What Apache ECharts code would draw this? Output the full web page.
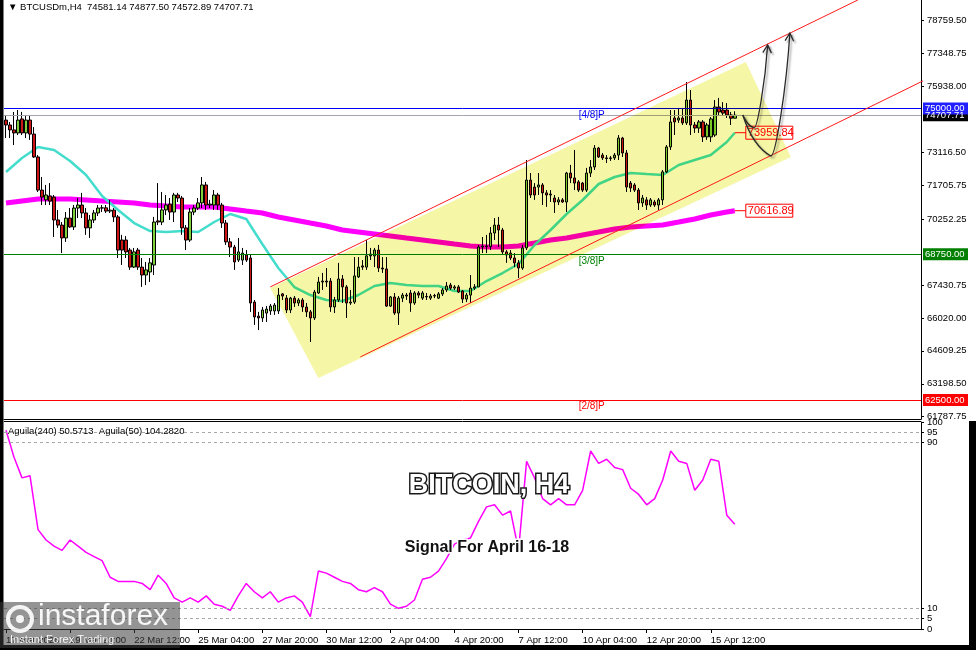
<!DOCTYPE html>
<html><head><meta charset="utf-8">
<script src="https://cdn.jsdelivr.net/npm/echarts@6/dist/echarts.min.js"></script>
<style>html,body{margin:0;padding:0;background:#fff}#c{width:976px;height:650px}</style>
</head><body><div id="c"></div>
<script>
// ---------------- DATA ----------------
const symbolTitle = '\u25BC BTCUSDm,H4  74581.14 74877.50 74572.89 74707.71';
const indicatorTitle = 'Aguila(240) 50.5713  Aguila(50) 104.2820';
const startTime = Date.UTC(2026, 2, 17, 4, 0);
const barCount = 229;            // includes empty right shift
const months = ['Jan','Feb','Mar','Apr','May','Jun','Jul','Aug','Sep','Oct','Nov','Dec'];

// [open, close, low, high]
const candles = [
[74500,74290,73730,74720],[74290,74080,73730,74420],[74080,73950,73430,74850],[73950,74500,73860,74930],
[74550,73950,73860,74850],[73950,74500,73730,74720],[74500,73900,73650,74680],[73900,72920,72880,74200],
[72920,71500,71420,73000],[71500,71200,70860,72060],[71080,71290,70860,71720],[71250,71030,70860,71800],
[71200,70220,69490,71290],[70220,70000,69880,70650],[70000,69450,68800,70130],[69450,70300,69280,70560],
[70300,69920,69880,70730],[69920,70730,69790,70860],[70730,70860,70300,71160],[70860,70520,70300,71380],
[70520,69880,69580,70730],[69880,70220,69450,70430],[70220,70520,70090,70650],[70520,70730,70390,70860],
[70730,70740,70560,70860],[70740,70600,70520,70860],[70600,70640,70520,71080],[70640,70350,70130,70730],
[70350,68930,68590,70430],[69360,68930,68290,69580],[69360,68850,68590,69530],[68930,68200,68080,69020],
[68200,68850,68160,69020],[68930,68200,68080,69020],[68200,67860,67350,68590],[67860,68080,67430,68420],
[67990,68380,67560,68590],[68290,70130,67860,70350],[70180,70130,70000,71800],[70130,70650,70000,71420],
[70650,70860,70430,71290],[70900,70560,70220,71160],[70560,71290,70130,71380],[71290,71160,70990,71380],
[71160,69880,69580,71250],[69880,69360,68930,70000],[69360,70560,69280,70730],[70560,70730,70430,70860],
[70730,70950,70650,71160],[70950,71720,70730,72060],[71720,70860,70650,71850],[70860,70900,70730,71080],
[70860,71290,70650,71500],[71290,70860,70650,71380],[70860,70090,69880,70950],[70090,69280,69150,70220],
[69280,69060,68630,69450],[69060,68420,68080,69150],[68500,68850,68420,69450],[68500,68800,68290,69020],
[68720,68500,68420,68930],[68590,66660,66280,68720],[66700,66060,65720,66790],[66100,66020,65500,66280],
[66020,66360,65850,66490],[66230,66400,65850,66530],[66320,66530,66150,66620],[66320,66570,66150,66660],
[66320,67000,66190,67300],[67050,66960,66790,67090],[66870,66360,66230,67000],[66360,66870,66230,66920],
[66870,66660,66490,66960],[66660,66790,66530,66870],[66790,66490,66280,66870],[66490,66280,66060,66660],
[66280,66020,64990,66360],[66020,67130,65930,67220],[67090,67560,67050,67780],[67560,67600,67220,67950],
[67600,67560,67350,68160],[67600,66490,66280,67730],[66490,66790,66230,66920],[66790,67690,66700,68380],
[67690,67350,66660,67860],[67350,66660,66020,67430],[66660,66700,66580,67220],[66700,67820,66620,68630],
[67780,68200,67730,68630],[68250,68200,68080,68500],[68200,68680,68080,69360],[68760,68680,68500,69020],
[68680,68930,68200,69020],[68930,68160,67990,69150],[68160,68120,67950,68630],[68120,66530,66490,68630],
[66530,66920,66490,66960],[66920,66230,66150,67090],[66230,66870,65720,66960],[66870,67000,66700,67090],
[67000,66960,66790,67090],[67090,66660,66280,67220],[66660,67090,66580,67170],[67090,67000,66870,67170],
[66870,67090,66790,67170],[66940,66920,66790,67090],[66870,66960,66790,67050],[66960,66980,66870,67050],
[66870,67050,66830,67130],[67050,67220,66960,67300],[67220,67390,67130,67560],[67430,67300,67220,67520],
[67300,67350,67220,67430],[67350,67130,67090,67430],[67170,66830,66660,67220],[66830,67000,66700,67090],
[67000,67300,66660,67860],[67300,67350,67220,67470],[67350,69060,67350,69150],[69060,69100,68800,69490],
[69100,69080,68800,69580],[69080,69660,68930,69920],[69660,70000,69360,70300],[70000,69790,69060,70350],
[69790,68850,68720,69880],[68850,68720,68380,68930],[68800,68590,68500,68930],[68590,68380,68200,68800],
[68380,68160,67730,68500],[68160,69020,68080,69150],[69020,71930,68930,72790],[71930,71290,71160,72230],
[71630,71290,71080,71800],[71630,71720,71290,72230],[71720,71380,70860,71800],[71380,71290,70780,71500],
[71290,71330,70990,71500],[71160,70990,70520,71290],[70990,71080,70860,71200],[71080,70990,70950,71160],
[70990,72230,70560,72280],[72230,72020,71800,72580],[72020,71800,71500,73220],[71850,71500,71420,71930],
[71800,71500,71420,71850],[71500,72230,71420,72450],[72230,72490,72060,72790],[72490,73300,72360,73430],
[73300,72920,72880,73350],[73000,72880,72790,73090],[72880,72850,72660,73000],[72850,72880,72750,72960],
[72880,73000,72790,73090],[73000,73730,72790,73860],[73730,73090,72920,73780],[73090,71630,71420,73220],
[71800,71590,71420,71890],[71720,71500,71420,71800],[71500,70950,70650,71590],[70950,71160,70780,71290],
[71080,70860,70650,71200],[70860,71080,70780,71160],[70990,70860,70780,71080],[70860,71080,70650,71160],
[71080,72280,70860,72360],[72280,73350,72230,73430],[73350,74420,73220,74930],[74590,74420,73860,74930],
[74500,74590,74380,75020],[74590,74380,74290,75020],[74380,75360,74290,76130],[75360,74290,73860,75790],
[74290,74160,73950,74420],[74160,74420,73950,74500],[74420,73780,73560,74500],[73780,74290,73650,74380],
[73780,74550,73560,74630],[73860,75060,73780,75360],[75060,74850,74720,75450],[74930,74800,74720,75270],
[74930,74720,74590,75230],[74720,74580,74290,74850],[74581.14,74707.71,74572.89,74877.50]
];

// moving averages, sampled every 4 bars (last one at the last bar)
const maFast = [72275,72875,73347,73218,72747,72147,71246,70646,70089,69746,69703,69746,69703,70132,70475,70261,
69189,68160,67346,67003,66789,66746,67003,67389,67518,67432,67389,67389,67175,67175,67603,67946,68332,69146,
69789,70475,71075,71761,72061,72232,72189,72147,72575,72789,73004,73561,73959.84];
const maSlow = [70946,71032,71118,71118,71118,71075,71032,70989,70946,70861,70818,70775,70775,70775,70689,70603,
70518,70347,70218,70089,69961,69789,69703,69617,69532,69446,69361,69275,69189,69104,69061,69061,69104,69232,
69361,69446,69575,69703,69832,69918,69961,70004,70132,70261,70432,70561,70616.89];
// Aguila(240) indicator, sampled every 2 bars
const aguila = [96,83,73,74,48,43,40,38,43,40, 37,35,33,25,23,23,23,22,19,26, 22,15,13,15,13,16,12,11,9,16,
22,18,15,18,13,15,16,13,6,28, 27,25,23,22,19,18,20,18,12,10, 11,14,24,25,28,34,41,43,44,52,
59,60,55,57,38,81,73,63,60,63, 60,60,67,86,80,82,78,77,68,65, 60,63,72,86,81,80,67,72,82,81, 55,50.57];

const priceTicks = [78759.50,77348.75,75938.00,73116.50,71705.75,70252.25,67430.75,66020.00,64609.25,63198.50,61787.75];
const aguilaTicks = [0,5,10,90,95,100];
const aguilaLevels = [5,10,90,95];
const levels = [
  {name:'[4/8]P', value:75000, color:'#0000ff'},
  {name:'[3/8]P', value:68750, color:'#008000'},
  {name:'[2/8]P', value:62500, color:'#ff0000'}
];
const lastPrice = 74707.71;
// annotations in [barIndex, price]
const channelUpper = [[66,67350],[212.75,79650]];
const channelLower = [[88.5,64350],[229,76180]];
const channelArea = [[66,67300],[184.75,76990],[196,72920],[78,63450]];
const arrowA = [[184,74720],[186.8,74160],[190.2,77720]];
const arrowB = [[184,74720],[191,72960],[195.75,78230]];
const levelLabelBar = 143;
const bigTitle = 'BITCOIN, H4';
const subTitle = 'Signal For April 16-18';

// ---------------- BUILD ----------------
const cats = [];
for (let i = 0; i < barCount; i++) {
  const d = new Date(startTime + i * 4 * 3600e3);
  const dd = d.getUTCDate(), mm = months[d.getUTCMonth()];
  const hh = String(d.getUTCHours()).padStart(2,'0'), mi = String(d.getUTCMinutes()).padStart(2,'0');
  cats.push(i === 0 ? `${dd} ${mm} ${d.getUTCFullYear()}` : `${dd} ${mm} ${hh}:${mi}`);
}
const lastBar = candles.length - 1;
function sparse(step, vals) {
  const a = new Array(barCount).fill(null);
  vals.forEach((v, k) => { const b = Math.min(k * step, lastBar); a[b] = v; });
  return a;
}
const FONT = "'Liberation Sans', Arial, sans-serif";
const G = {left:4, width:917, mainTop:0, mainH:419, indTop:422, indH:207};
const labelShown = (i) => i % 16 === 0 && i <= lastBar;

const chart = echarts.init(document.getElementById('c'), null, {renderer:'canvas', width:976, height:650});
const option = {
  animation:false,
  backgroundColor:'#ffffff',
  grid:[
    {left:G.left, top:G.mainTop, width:G.width, height:G.mainH},
    {left:G.left, top:G.indTop, width:G.width, height:G.indH}
  ],
  xAxis:[
    {type:'category', gridIndex:0, data:cats, axisLine:{show:true, lineStyle:{color:'#000'}},
     axisTick:{show:false}, axisLabel:{show:false}, splitLine:{show:false}},
    {type:'category', gridIndex:1, data:cats, axisLine:{show:true, lineStyle:{color:'#000'}},
     axisTick:{show:true, alignWithLabel:true, interval:labelShown, length:4, lineStyle:{color:'#000'}},
     axisLabel:{interval:labelShown, align:'left', color:'#000', fontSize:9.5, fontFamily:FONT, margin:6},
     splitLine:{show:false}}
  ],
  yAxis:[
    {type:'value', gridIndex:0, position:'right', min:61689, max:79647, scale:true,
     axisLine:{show:true, lineStyle:{color:'#000'}},
     axisTick:{show:true, length:3, customValues:priceTicks, lineStyle:{color:'#000'}},
     axisLabel:{customValues:priceTicks, formatter:(v)=>Number(v).toFixed(2), color:'#000', fontSize:9.5, fontFamily:FONT, margin:6},
     splitLine:{show:false}},
    {type:'value', gridIndex:1, position:'right', min:0, max:100,
     axisLine:{show:true, lineStyle:{color:'#000'}},
     axisTick:{show:true, length:3, customValues:aguilaTicks, lineStyle:{color:'#000'}},
     axisLabel:{customValues:aguilaTicks, color:'#000', fontSize:9.5, fontFamily:FONT, margin:6},
     splitLine:{show:false}}
  ],
  series:[
    {type:'line', name:'MA slow', xAxisIndex:0, yAxisIndex:0, data:sparse(4, maSlow), connectNulls:true,
     symbol:'none', lineStyle:{color:'#ff00ff', width:5}, z:2, silent:true},
    {type:'line', name:'MA fast', xAxisIndex:0, yAxisIndex:0, data:sparse(4, maFast), connectNulls:true,
     symbol:'none', lineStyle:{color:'#44dccc', width:2.5}, z:2, silent:true},
    {type:'candlestick', xAxisIndex:0, yAxisIndex:0, data:candles, barWidth:3, z:3,
     itemStyle:{color:'#7fd03a', color0:'#cc1515', borderColor:'#000', borderColor0:'#000', borderWidth:1},
     markLine:{symbol:'none', silent:true, animation:false, label:{show:false},
       data:[
         {yAxis:levels[1].value, lineStyle:{color:levels[1].color, width:1, type:'solid'}},
         {yAxis:levels[2].value, lineStyle:{color:levels[2].color, width:1, type:'solid'}},
         {yAxis:lastPrice, lineStyle:{color:'#a4a4b0', width:1, type:'solid'}},
         {yAxis:levels[0].value, lineStyle:{color:levels[0].color, width:1, type:'solid'}}
       ]}},
    {type:'line', name:'Aguila', xAxisIndex:1, yAxisIndex:1, data:sparse(2, aguila), connectNulls:true,
     symbol:'none', lineStyle:{color:'#ff00ff', width:1.5}, silent:true,
     markLine:{symbol:'none', silent:true, animation:false, label:{show:false},
       lineStyle:{color:'#a8a8a8', width:1, type:[3,3]},
       data:aguilaLevels.map(v=>({yAxis:v}))}}
  ]
};
chart.setOption(option);

// ---------------- ANNOTATIONS ----------------
const X0 = chart.convertToPixel({xAxisIndex:0}, 0);
const BW = chart.convertToPixel({xAxisIndex:0}, 1) - X0;
const Y = (v) => chart.convertToPixel({yAxisIndex:0}, v);
const P = (p) => [X0 + p[0]*BW, Y(p[1])];
const gridRight = G.left + G.width;
const els = [];

// yellow channel area
els.push({type:'polygon', z:10, silent:true, shape:{points:channelArea.map(P)},
  style:{fill:'#f5f6a6', blend:'multiply'}});
// channel lines
[channelUpper, channelLower].forEach(seg => {
  const a = P(seg[0]), b = P(seg[1]);
  els.push({type:'line', z:20, silent:true, shape:{x1:a[0], y1:a[1], x2:b[0], y2:b[1]},
    style:{stroke:'#ff1a1a', lineWidth:1}});
});
// arrows
function arrow(pts) {
  const S = P(pts[0]), B = P(pts[1]), T = P(pts[2]);
  const sty = {stroke:'#2a2a2a', lineWidth:1.3, fill:null,
    shadowColor:'rgba(0,0,0,0.35)', shadowBlur:2, shadowOffsetX:2, shadowOffsetY:2};
  els.push({type:'bezierCurve', z:30, silent:true, shape:{x1:S[0], y1:S[1], x2:B[0], y2:B[1],
    cpx1:S[0] + (B[0]-S[0])*0.35, cpy1:S[1] + (B[1]-S[1])*0.75}, style:sty});
  const c1x = B[0] + (T[0]-B[0])*0.25, c1y = B[1];
  const c2x = T[0] - (T[0]-B[0])*0.18, c2y = T[1] + (B[1]-T[1])*0.45;
  els.push({type:'bezierCurve', z:30, silent:true, shape:{x1:B[0], y1:B[1], x2:T[0], y2:T[1],
    cpx1:c1x, cpy1:c1y, cpx2:c2x, cpy2:c2y}, style:sty});
  let dx = T[0]-c2x, dy = T[1]-c2y; const n = Math.hypot(dx,dy); dx/=n; dy/=n;
  const L = 9, ang = 0.5;
  const rot = (a) => [T[0] - L*(dx*Math.cos(a) - dy*Math.sin(a)), T[1] - L*(dx*Math.sin(a) + dy*Math.cos(a))];
  const l = rot(ang), r = rot(-ang);
  els.push({type:'polyline', z:30, silent:true, shape:{points:[l, T, r]}, style:sty});
}
arrow(arrowA); arrow(arrowB);

// MA value boxes
[[maFast[maFast.length-1]], [maSlow[maSlow.length-1]]].forEach(([v]) => {
  const y = Y(v), x = X0 + lastBar*BW;
  const bx = x + 11;
  els.push({type:'line', z:25, silent:true, shape:{x1:x, y1:y, x2:bx, y2:y}, style:{stroke:'#ff0000', lineWidth:1}});
  els.push({type:'rect', z:25, silent:true, shape:{x:bx, y:y-6.5, width:47, height:13},
    style:{fill:null, stroke:'#ff0000', lineWidth:1}});
  els.push({type:'text', z:26, silent:true, style:{text:v.toFixed(2), x:bx+2, y:y, fill:'#ff0000',
    font:`11px ${FONT}`, textVerticalAlign:'middle', textAlign:'left'}});
});

// level labels
levels.forEach(lv => {
  els.push({type:'text', z:26, silent:true, style:{text:lv.name, x:X0 + levelLabelBar*BW, y:Y(lv.value)+1.5,
    fill:lv.color, font:`10px ${FONT}`, textVerticalAlign:'top', textAlign:'left'}});
});

// right axis value boxes
function axisBox(v, bg, txt) {
  const y = Y(v);
  els.push({type:'rect', z:40, silent:true, shape:{x:gridRight+2, y:y-6, width:45, height:12}, style:{fill:bg}});
  els.push({type:'text', z:41, silent:true, style:{text:txt, x:gridRight+4, y:y, fill:'#fff',
    font:`9.5px ${FONT}`, textVerticalAlign:'middle', textAlign:'left'}});
}
axisBox(lastPrice, '#000000', lastPrice.toFixed(2));
axisBox(levels[0].value, '#2020ff', levels[0].value.toFixed(2));
axisBox(levels[1].value, '#008000', levels[1].value.toFixed(2));
axisBox(levels[2].value, '#ff0000', levels[2].value.toFixed(2));

// titles
els.push({type:'text', z:50, silent:true, style:{text:symbolTitle, x:8, y:7, fill:'#000',
  font:`9.5px ${FONT}`, textVerticalAlign:'middle'}});
els.push({type:'text', z:50, silent:true, style:{text:indicatorTitle, x:8, y:431, fill:'#000',
  font:`9.5px ${FONT}`, textVerticalAlign:'middle'}});
els.push({type:'text', z:50, silent:true, style:{text:bigTitle, x:489, y:486, fill:'#ffffff', stroke:'#1a1a1a', lineWidth:3,
  font:`bold 27px ${FONT}`, textAlign:'center', textVerticalAlign:'middle'}});
els.push({type:'text', z:50, silent:true, style:{text:subTitle, x:487, y:548, fill:'#111111', stroke:'#ffffff', lineWidth:3,
  font:`bold 16px ${FONT}`, textAlign:'center', textVerticalAlign:'middle'}});

// indicator panel top border
els.push({type:'line', z:5, silent:true, shape:{x1:G.left, y1:G.indTop-0.5, x2:gridRight, y2:G.indTop-0.5}, style:{stroke:'#000', lineWidth:1}});
// frame
els.push({type:'rect', z:60, silent:true, shape:{x:0, y:0, width:3.5, height:650}, style:{fill:'#000'}});
els.push({type:'rect', z:60, silent:true, shape:{x:0, y:645, width:976, height:5}, style:{fill:'#000'}});
els.push({type:'rect', z:60, silent:true, shape:{x:969, y:421, width:7, height:229}, style:{fill:'#000'}});

// watermark
els.push({type:'rect', z:70, silent:true, shape:{x:0, y:602, width:180, height:46}, style:{fill:'rgba(60,60,60,0.55)'}});
els.push({type:'circle', z:71, silent:true, shape:{cx:20, cy:619, r:12}, style:{fill:null, stroke:'rgba(255,255,255,0.9)', lineWidth:4}});
els.push({type:'circle', z:71, silent:true, shape:{cx:20, cy:619, r:4}, style:{fill:'rgba(255,255,255,0.9)'}});
els.push({type:'text', z:71, silent:true, style:{text:'instaforex', x:38, y:617, fill:'rgba(255,255,255,0.92)',
  font:`30px ${FONT}`, textVerticalAlign:'middle'}});
els.push({type:'text', z:71, silent:true, style:{text:'Instant Forex Trading', x:10, y:640, fill:'rgba(255,255,255,0.92)',
  font:`11px ${FONT}`, textVerticalAlign:'middle'}});

chart.setOption({graphic:{elements:els}});
</script>
</body></html>
